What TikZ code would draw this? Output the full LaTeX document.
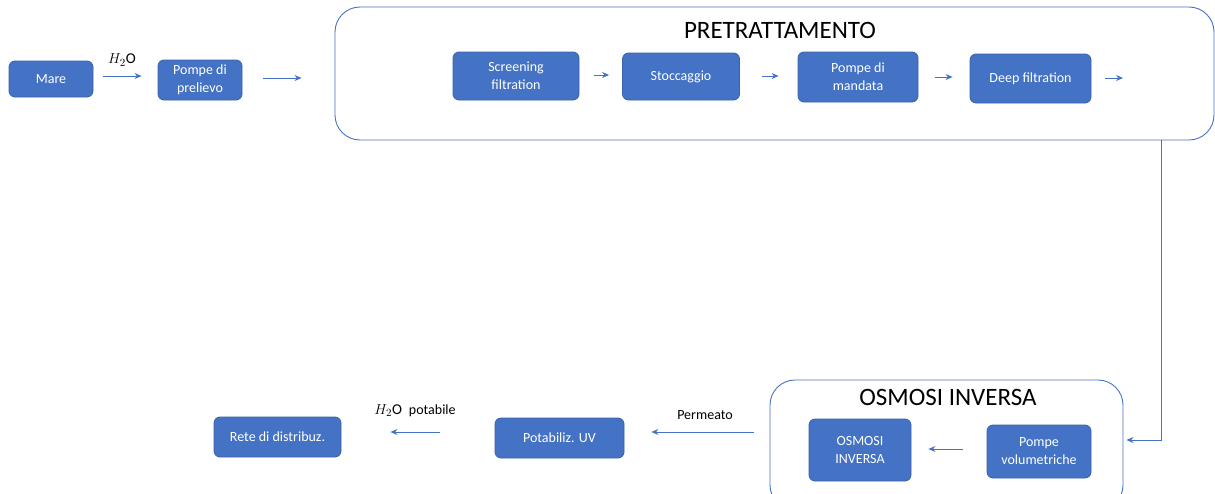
\documentclass[tikz,border=0pt]{standalone}
\usepackage{fontspec}
\setmainfont{Carlito}
\usetikzlibrary{arrows.meta}
\definecolor{boxblue}{HTML}{4472C4}
\definecolor{boxedge}{HTML}{3A62A8}
\begin{document}
\begin{tikzpicture}[x=1pt,y=-1pt,
  stepbox/.style={draw=boxedge, line width=0.8pt, fill=boxblue, rounded corners=6pt,
    text=white, font=\fontsize{14}{18}\selectfont, align=center, inner sep=0pt},
  group/.style={draw=boxblue, line width=0.9pt, rounded corners=25pt, inner sep=0pt},
  arr/.style={draw=boxblue, line width=1pt, -{Stealth[length=7pt,width=6pt]}},
  title/.style={font=\fontsize{25}{28}\selectfont, text=black},
  lbl/.style={font=\fontsize{14}{16}\selectfont, text=black}]
\useasboundingbox (0,0) rectangle (1215,493);
\clip (0,0) rectangle (1215,493);

% group frames
\node[group, minimum width=879pt, minimum height=133pt] (pret) at (774.5,73.5) {};
\node[group, minimum width=353pt, minimum height=130pt] (osm) at (946.5,445) {};
\node[title] (pretT) at (780,30) {PRETRATTAMENTO};
\node[title] (osmT) at (948,397) {OSMOSI INVERSA};

% process steps
\node[stepbox, minimum width=84pt, minimum height=36pt] (mare) at (51,79) {Mare};
\node[stepbox, minimum width=84pt, minimum height=40pt] (prel) at (200,80) {Pompe di\\prelievo};
\node[stepbox, minimum width=126pt, minimum height=48pt] (scr) at (516,76) {Screening\\filtration};
\node[stepbox, minimum width=117pt, minimum height=47pt] (sto) at (681,76.5) {Stoccaggio};
\node[stepbox, minimum width=120pt, minimum height=50pt] (pma) at (858,77) {Pompe di\\mandata};
\node[stepbox, minimum width=121pt, minimum height=49pt] (deep) at (1030.5,78.5) {Deep filtration};
\node[stepbox, minimum width=104pt, minimum height=53pt] (pvol) at (1039,451.5) {Pompe\\volumetriche};
\node[stepbox, minimum width=102pt, minimum height=62pt] (oi) at (860,450) {OSMOSI\\INVERSA};
\node[stepbox, minimum width=129pt, minimum height=40pt] (uv) at (559.5,438) {Potabiliz. UV};
\node[stepbox, minimum width=127pt, minimum height=40pt] (rete) at (277.5,437) {Rete di distribuz.};

% connectors
\coordinate (deepout) at (1123,78);
\coordinate (turn) at (1161,440);
\draw[arr, shorten <=10pt, shorten >=16pt] (mare.east |- 0,76) -- (prel.west |- 0,76);
\node[lbl, font=\fontsize{15}{17}\selectfont] (h2o) at (122,60) {$H_2\mathrm{O}$};
\draw[arr, shorten <=21pt, shorten >=33pt] (prel.east |- 0,78) -- (pret.west |- 0,78);
\draw[arr, shorten <=15pt, shorten >=13pt] (scr.east |- 0,75) -- (sto.west |- 0,75);
\draw[arr, shorten <=22pt, shorten >=19pt] (sto.east |- 0,76) -- (pma.west |- 0,76);
\draw[arr, shorten <=17pt, shorten >=17pt] (pma.east |- 0,77) -- (deep.west |- 0,77);
\draw[arr, shorten <=14pt] (deep.east |- deepout) -- (deepout);
\draw[arr, shorten >=3pt] (pret.south -| turn) |- (osm.east |- turn);
\draw[arr, shorten <=24pt, shorten >=17pt] (pvol.west |- 0,449) -- (oi.east |- 0,449);
\draw[arr, shorten <=16pt, shorten >=27pt] (osm.west |- 0,432) -- (uv.east |- 0,432);
\node[lbl] (perm) at (705,415) {Permeato};
\draw[arr, shorten <=55pt, shorten >=49pt] (uv.west |- 0,432) -- (rete.east |- 0,432);
\node[lbl] (h2op) at (415,411) {{\fontsize{15}{17}\selectfont$H_2\mathrm{O}$}\enspace potabile};
\end{tikzpicture}
\end{document}
